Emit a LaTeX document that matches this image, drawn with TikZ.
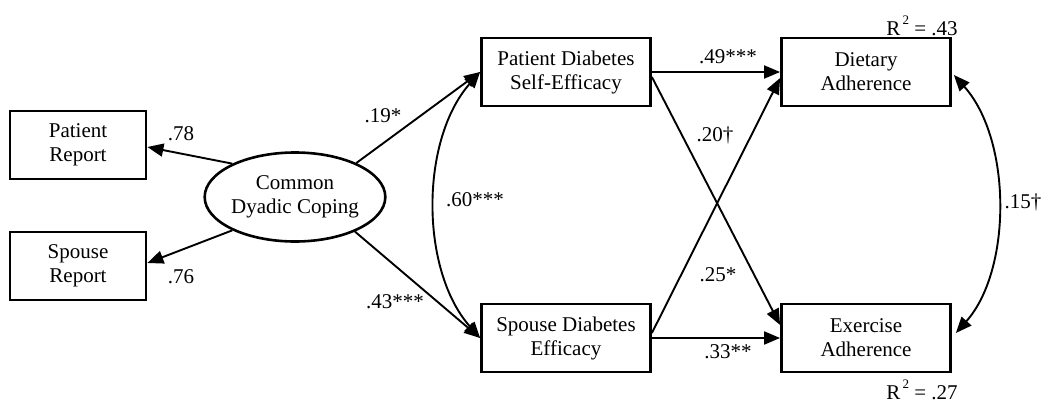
\documentclass[tikz,border=0pt]{standalone}
\usepackage{fontspec}
\setmainfont{Liberation Serif}
\usetikzlibrary{arrows.meta,shapes.geometric}
\begin{document}
\begin{tikzpicture}[x=1pt,y=-1pt,
  every node/.style={font=\fontsize{21}{24}\selectfont},
  box/.style={draw,line width=2.8pt,inner sep=0pt,align=center,minimum height=68pt},
  lat/.style={draw,ellipse,line width=2.6pt,inner sep=0pt,align=center,minimum width=166pt,minimum height=89pt},
  path/.style={line width=1.9pt,-{Triangle[length=16pt,width=13pt]}},
  cov/.style={line width=1.9pt,{Triangle[length=16pt,width=13pt]}-{Triangle[length=16pt,width=13pt]}},
  lbl/.style={inner sep=0pt}]
\useasboundingbox (0,0) rectangle (1045,407);
\node[box,minimum width=136pt] (pr) at (78,145) {Patient\\Report};
\node[box,minimum width=136pt] (sr) at (78,266) {Spouse\\Report};
\node[lat] (cdc) at (295,197) {Common\\Dyadic Coping};
\node[box,minimum width=169pt] (pdse) at (566,72) {Patient Diabetes\\Self-Efficacy};
\node[box,minimum width=169pt] (sde) at (566,338) {Spouse Diabetes\\Efficacy};
\node[box,minimum width=169pt] (diet) at (866,72) {Dietary\\Adherence};
\node[box,minimum width=169pt] (ex) at (866,338) {Exercise\\Adherence};

\draw[path] (cdc.152) -- ([yshift=-2pt]pr.east);
\draw[path] (cdc.208) -- ([yshift=3pt]sr.east);
\draw[path] (cdc.29) -- (pdse.west);
\draw[path] (cdc.-30) -- (sde.west);
\draw[cov] (pdse.west) .. controls (420,140) and (420,270) .. (sde.west);
\draw[path] (pdse.east) -- (diet.west);
\draw[path] ([yshift=-5pt]pdse.east) -- ([yshift=13pt]ex.west);
\draw[path] ([yshift=5pt]sde.east) -- ([yshift=-6pt]diet.west);
\draw[path] (sde.east) -- (ex.west);
\draw[cov] ([xshift=2pt,yshift=-3pt]diet.east) .. controls (1012,140) and (1012,270) .. ([xshift=4pt,yshift=5pt]ex.east);

\node[lbl] (l78) at (181,134) {.78};
\node[lbl] (l76) at (181,277) {.76};
\node[lbl] (l19) at (383,116) {.19*};
\node[lbl] (l43) at (395,302) {.43***};
\node[lbl] (l60) at (475,200) {.60***};
\node[lbl] (l49) at (728,57) {.49***};
\node[lbl] (l20) at (715,135) {.20†};
\node[lbl] (l25) at (718,275) {.25*};
\node[lbl] (l33) at (728,352) {.33**};
\node[lbl] (l15) at (1023,202) {.15†};
\node[lbl] (r1) at (922,26) {R\raisebox{1.2ex}{\fontsize{13}{13}\selectfont\,2} = .43};
\node[lbl] (r2) at (922,390) {R\raisebox{1.2ex}{\fontsize{13}{13}\selectfont\,2} = .27};
\end{tikzpicture}
\end{document}
